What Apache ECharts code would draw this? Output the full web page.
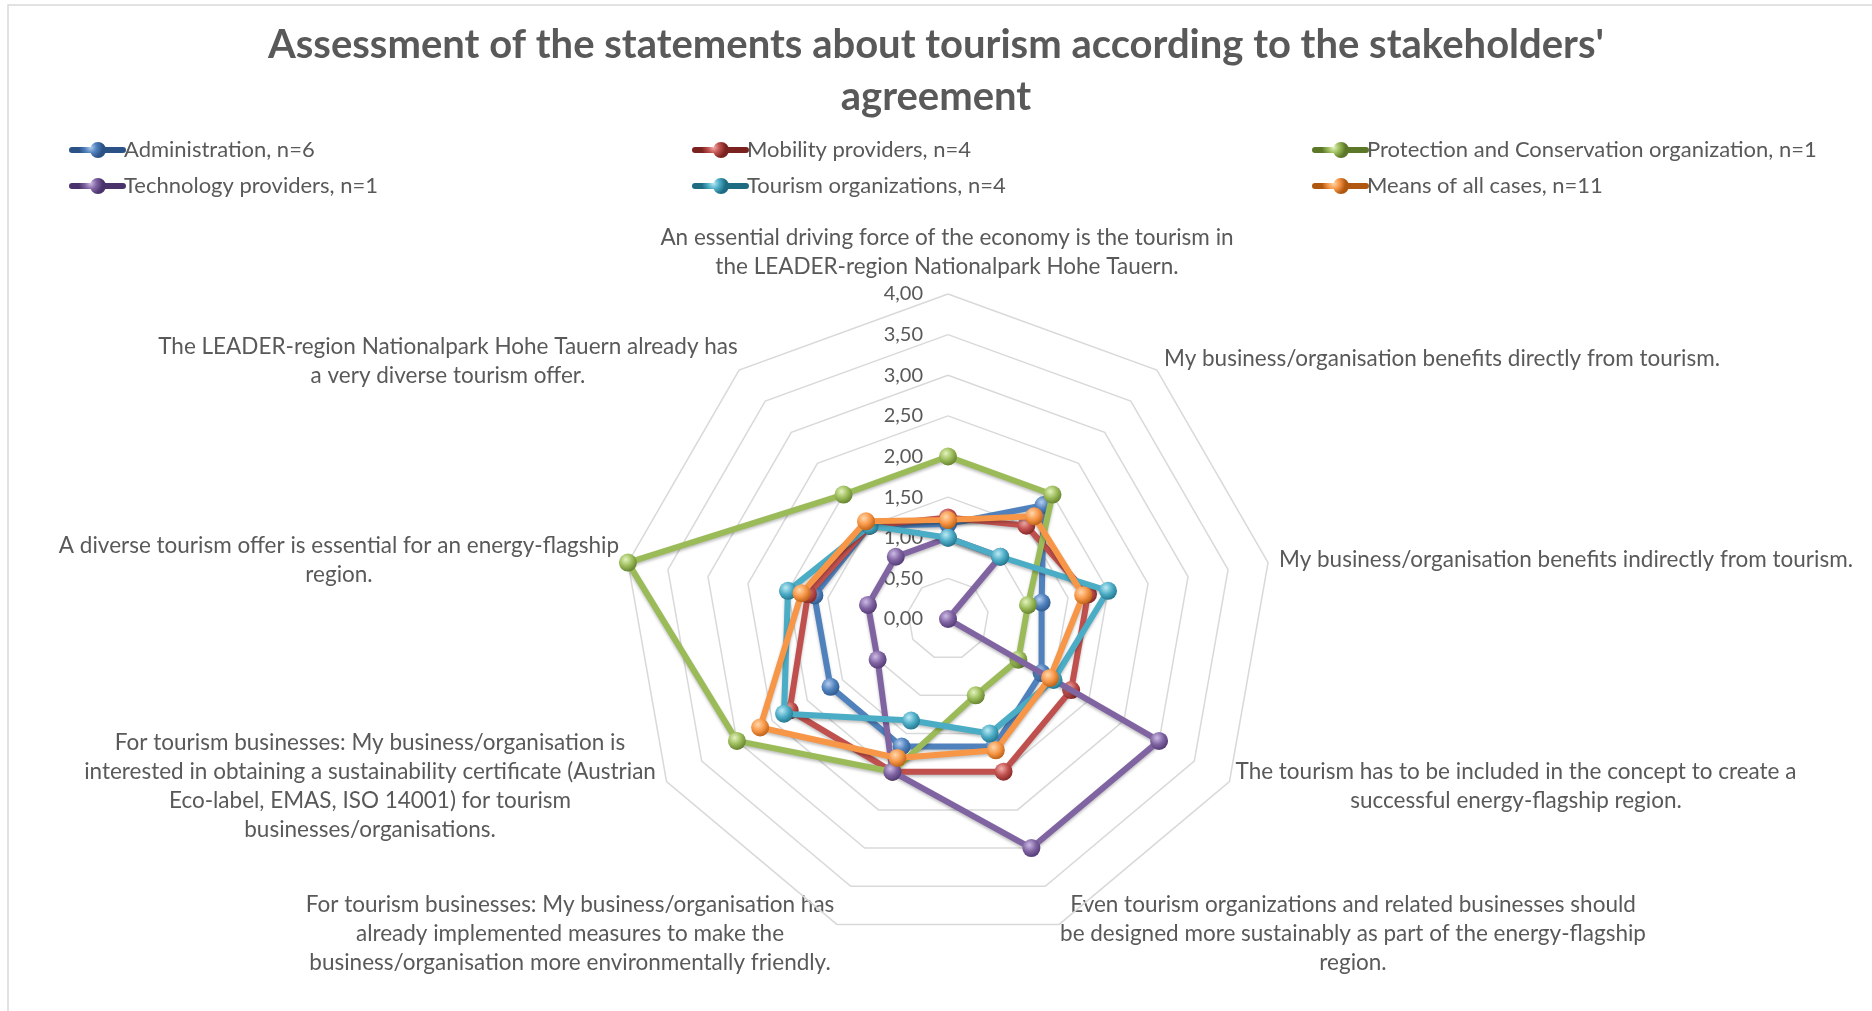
<!DOCTYPE html>
<html><head><meta charset="utf-8">
<script src="https://cdn.jsdelivr.net/npm/echarts@6/dist/echarts.min.js"></script>
<style>html,body{margin:0;padding:0;background:#fff}#c{width:1872px;height:1011px}</style>
</head><body><div id="c"></div>
<script>
const chartTitle = "Assessment of the statements about tourism according to the stakeholders'\nagreement";
const categories = [
  "An essential driving force of the economy is the tourism in\nthe LEADER-region Nationalpark Hohe Tauern.",
  "My business/organisation benefits directly from tourism.",
  "My business/organisation benefits indirectly from tourism.",
  "The tourism has to be included in the concept to create a\nsuccessful energy-flagship region.",
  "Even tourism organizations and related businesses should\nbe designed more sustainably as part of the energy-flagship\nregion.",
  "For tourism businesses: My business/organisation has\nalready implemented measures to make the\nbusiness/organisation more environmentally friendly.",
  "For tourism businesses: My business/organisation is\ninterested in obtaining a sustainability certificate (Austrian\nEco-label, EMAS, ISO 14001) for tourism\nbusinesses/organisations.",
  "A diverse tourism offer is essential for an energy-flagship\nregion.",
  "The LEADER-region Nationalpark Hohe Tauern already has\na very diverse tourism offer."
];
const seriesNames = [
  "Administration, n=6",
  "Mobility providers, n=4",
  "Protection and Conservation organization, n=1",
  "Technology providers, n=1",
  "Tourism organizations, n=4",
  "Means of all cases, n=11"
];
const administration = [1.17, 1.83, 1.17, 1.33, 1.67, 1.67, 1.67, 1.67, 1.50];
const mobility       = [1.25, 1.50, 1.75, 1.75, 2.00, 2.00, 2.25, 1.75, 1.50];
const protection     = [2, 2, 1, 1, 1, 2, 3, 4, 2];
const technology     = [1, 1, 0, 3, 3, 2, 1, 1, 1];
const tourismOrgs    = [1.00, 1.00, 2.00, 1.50, 1.50, 1.33, 2.33, 2.00, 1.50];
const meansAll       = [1.22, 1.65, 1.69, 1.45, 1.72, 1.82, 2.67, 1.83, 1.57];
const axisMin = 0, axisMax = 4, axisInterval = 0.5;

const seriesValues = [administration, mobility, protection, technology, tourismOrgs, meansAll];
const palette = [
  ['#4F81BD', '#b4cdef', '#2b5286'],
  ['#C0504D', '#f3b0ad', '#7a2220'],
  ['#9BBB59', '#e3f3bd', '#5b7727'],
  ['#8064A2', '#cdbbe6', '#4a336c'],
  ['#4BACC6', '#bdeaf5', '#1d6c82'],
  ['#F79646', '#ffd8ad', '#b0570f']
];
// ECharts places radar indicators counter-clockwise; the reference runs clockwise
const order = [0, 8, 7, 6, 5, 4, 3, 2, 1];
// label anchor layout (x, y, align) for the statement texts
const nameLayout = [
  [947, 252, 'center'], [1164, 359, 'left'], [1279, 560, 'left'],
  [1516, 786, 'center'], [1353, 934, 'center'], [570, 934, 'center'],
  [370, 786, 'center'], [339, 560, 'center'], [448, 361, 'center']
];
const FONT = 'Lato';
const TXT = '#595959';

function ball(c) {
  return {type: 'radial', x: 0.38, y: 0.33, r: 0.75,
    colorStops: [{offset: 0, color: c[1]}, {offset: 0.5, color: c[0]}, {offset: 1, color: c[2]}]};
}
const legendIcon = 'path://M3,5H22V11H3A3,3 0 0 1 3,5Z M35,5H54A3,3 0 0 1 54,11H35Z M37,8A8,8 0 1 1 21,8A8,8 0 1 1 37,8Z M0,0H0.01V16H0Z M57,0H57.01V16H57Z';

const indicator = order.map((k, i) => {
  const ind = {name: categories[k], min: axisMin, max: axisMax};
  if (i === 0) ind.axisLabel = {show: true};
  return ind;
});

const chart = echarts.init(document.getElementById('c'), null, {renderer: 'canvas'});
const legendCols = [[0, 3], [1, 4], [2, 5]];
const legendLeft = [64, 687, 1307];

chart.setOption({
  backgroundColor: '#fff',
  animation: false,
  title: {
    text: chartTitle, left: 'center', top: 19, padding: [0, 0, 0, 14],
    textStyle: {fontFamily: FONT, fontWeight: 'bold', fontSize: 40, color: TXT, lineHeight: 52}
  },
  legend: legendCols.map((col, i) => ({
    data: col.map(j => seriesNames[j]),
    orient: 'vertical', left: legendLeft[i], top: 133, itemGap: 12,
    itemWidth: 57, itemHeight: 16, icon: legendIcon, selectedMode: false,
    textStyle: {fontFamily: FONT, fontSize: 22, color: TXT, lineHeight: 24, padding: [0, 0, 0, -7]}
  })),
  radar: {
    center: [948, 619], radius: 325, startAngle: 90, shape: 'polygon',
    splitNumber: (axisMax - axisMin) / axisInterval,
    indicator: indicator,
    axisName: {show: false},
    axisLine: {show: false},
    axisTick: {show: false},
    splitArea: {show: false},
    splitLine: {lineStyle: {color: '#d9d9d9', width: 1.5}},
    axisLabel: {show: false, color: TXT, fontFamily: FONT, fontSize: 20, margin: 25,
      formatter: v => Number(v).toFixed(2).replace('.', ',')}
  },
  graphic: [
    {type: 'rect', shape: {x: 8, y: 5, width: 2000, height: 1200}, silent: true,
      style: {fill: 'none', stroke: '#d9d9d9', lineWidth: 1.5}, z: -1},
    ...categories.map((t, k) => ({
      type: 'text', x: nameLayout[k][0], y: nameLayout[k][1], silent: true,
      style: {text: t, fill: TXT, font: '22.5px ' + FONT, lineHeight: 29,
        align: nameLayout[k][2], verticalAlign: 'middle'}
    }))
  ],
  series: seriesValues.map((vals, j) => ({
    type: 'radar', name: seriesNames[j], symbol: 'circle', symbolSize: 18, z: 2 + j,
    lineStyle: {color: palette[j][0], width: 6, shadowBlur: 3, shadowColor: 'rgba(0,0,0,0.25)', shadowOffsetY: 2},
    itemStyle: {color: ball(palette[j])},
    data: [{name: seriesNames[j], value: order.map(k => vals[k])}]
  }))
});
</script></body></html>
